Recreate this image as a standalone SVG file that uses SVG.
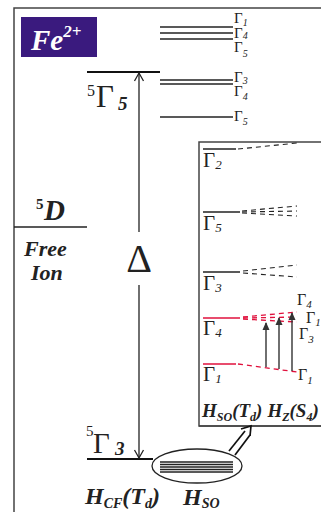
<svg xmlns="http://www.w3.org/2000/svg" width="321" height="512" viewBox="0 0 321 512">
<defs>
<style>
.ln{stroke:#222;stroke-width:1.3;fill:none}
.lv{stroke:#111;stroke-width:2;fill:none}
.fr{stroke:#444;stroke-width:1.5;fill:none}
.ds{stroke:#222;stroke-width:1.1;fill:none;stroke-dasharray:5 4}
.dr{stroke:#e0103c;stroke-width:1.3;fill:none;stroke-dasharray:5 4}
.rd{stroke:#e0103c;stroke-width:1.5;fill:none}
.t{font-family:"Liberation Serif","Times New Roman",serif;fill:#222}
.bi{font-weight:bold;font-style:italic}
.it{font-style:italic}
</style>
<marker id="ah" markerWidth="8" markerHeight="8" refX="7" refY="4" orient="auto" markerUnits="userSpaceOnUse">
<path d="M0,0.5 L8,4 L0,7.5 Z" fill="#333"/>
</marker>
</defs>

<g id="frame">
<path class="fr" d="M14,512 V8 H321"/>
<rect x="199" y="142" width="130" height="284" class="fr"/>
</g>

<g id="fe">
<rect x="21" y="17" width="76" height="40" fill="#3a1a7e"/>
<text x="31" y="50" class="t bi" font-size="29" style="fill:#fff">Fe<tspan font-size="17" dy="-13">2+</tspan></text>
</g>

<g id="free-ion">
<line class="ln" x1="14" y1="227" x2="87" y2="227"/>
<text x="36" y="209" class="t" font-size="15" font-weight="bold">5</text>
<text x="44" y="220" class="t bi" font-size="29">D</text>
<text x="24" y="256" class="t bi" font-size="22">Free</text>
<text x="31" y="280" class="t bi" font-size="22">Ion</text>
</g>

<g id="g5">
<line class="lv" x1="87" y1="72" x2="160" y2="72"/>
<text x="87" y="96" class="t" font-size="16">5</text>
<text x="96" y="107" class="t" font-size="31">Γ</text>
<text x="118" y="110" class="t bi" font-size="19">5</text>
</g>

<g id="g3">
<line class="lv" x1="87" y1="459" x2="153" y2="459"/>
<text x="86" y="436" class="t" font-size="15">5</text>
<text x="93" y="453" class="t" font-size="29">Γ</text>
<text x="115" y="455" class="t bi" font-size="19">3</text>
</g>

<g id="top-levels">
<line class="ln" x1="160" y1="27" x2="233" y2="27"/>
<line class="ln" x1="160" y1="33" x2="233" y2="33"/>
<line class="ln" x1="160" y1="39" x2="233" y2="39"/>
<line class="ln" x1="160" y1="80" x2="233" y2="80"/>
<line class="ln" x1="160" y1="84" x2="233" y2="84"/>
<line class="ln" x1="160" y1="117" x2="233" y2="117"/>
<text x="234" y="23" class="t" font-size="15">Γ<tspan class="it" font-size="10" dy="3">1</tspan></text>
<text x="234" y="38" class="t" font-size="15">Γ<tspan class="it" font-size="10" dy="1">4</tspan></text>
<text x="234" y="52" class="t" font-size="15">Γ<tspan class="it" font-size="10" dy="5">5</tspan></text>
<text x="234" y="82" class="t" font-size="15">Γ<tspan class="it" font-size="10" dy="2">3</tspan></text>
<text x="234" y="96" class="t" font-size="15">Γ<tspan class="it" font-size="10" dy="4">4</tspan></text>
<text x="234" y="121" class="t" font-size="15">Γ<tspan class="it" font-size="10" dy="4">5</tspan></text>
</g>

<g id="delta">
<text x="139" y="272" class="t" font-size="40" text-anchor="middle">Δ</text>
</g>

<g id="so-ellipse">
<ellipse cx="197" cy="466" rx="45" ry="17" class="ln"/>
<line class="ln" x1="160" y1="462" x2="233" y2="462"/>
<line class="ln" x1="160" y1="464.5" x2="233" y2="464.5"/>
<line class="ln" x1="160" y1="467" x2="233" y2="467"/>
<line class="ln" x1="160" y1="469.5" x2="233" y2="469.5"/>
<line class="ln" x1="160" y1="472" x2="233" y2="472"/>
</g>

<g id="bottom-labels">
<text x="85" y="504" class="t bi" font-size="24">H<tspan font-size="14" dy="4">CF</tspan><tspan dy="-4">(T</tspan><tspan font-size="14" dy="4">d</tspan><tspan dy="-4">)</tspan></text>
<text x="183" y="505" class="t bi" font-size="24">H<tspan font-size="14" dy="3">SO</tspan></text>
</g>

<g id="inset-levels">
<line class="ln" x1="203" y1="149" x2="236" y2="149"/>
<text x="203" y="167" class="t" font-size="21">Γ<tspan class="it" font-size="13" dy="2">2</tspan></text>
<line class="ln" x1="203" y1="212" x2="240" y2="212"/>
<text x="203" y="230" class="t" font-size="21">Γ<tspan class="it" font-size="13" dy="2">5</tspan></text>
<line class="ln" x1="203" y1="272" x2="240" y2="272"/>
<text x="203" y="290" class="t" font-size="21">Γ<tspan class="it" font-size="13" dy="2">3</tspan></text>
<line class="rd" x1="203" y1="318" x2="240" y2="318"/>
<text x="203" y="335" class="t" font-size="21">Γ<tspan class="it" font-size="13" dy="2">4</tspan></text>
<line class="rd" x1="203" y1="364" x2="236" y2="364"/>
<text x="203" y="381" class="t" font-size="21">Γ<tspan class="it" font-size="13" dy="2">1</tspan></text>
</g>

<g id="inset-right-labels">
<text x="297" y="305" class="t" font-size="16">Γ<tspan class="it" font-size="11" dy="3">4</tspan></text>
<text x="306" y="323" class="t" font-size="16">Γ<tspan class="it" font-size="11" dy="3">1</tspan></text>
<text x="299" y="339" class="t" font-size="16">Γ<tspan class="it" font-size="11" dy="4">3</tspan></text>
<text x="298" y="380" class="t" font-size="16">Γ<tspan class="it" font-size="11" dy="4">1</tspan></text>
</g>

<g id="inset-bottom">
<line class="fr" x1="199" y1="426" x2="321" y2="426"/>
<text x="202" y="417" class="t bi" font-size="19">H<tspan font-size="12" dy="4">SO</tspan><tspan dy="-4">(T</tspan><tspan font-size="12" dy="4">d</tspan><tspan dy="-4">)</tspan><tspan dx="5">H</tspan><tspan font-size="12" dy="4">Z</tspan><tspan dy="-4">(S</tspan><tspan font-size="12" dy="4">4</tspan><tspan dy="-4">)</tspan></text>
</g>

<g id="connectors">
<line class="ln" x1="139" y1="73" x2="139" y2="232"/>
<line class="ln" x1="139" y1="285" x2="139" y2="458"/>
<polyline class="ln" points="134.5,81 139,73 143.5,81"/>
<polyline class="ln" points="134.5,450 139,458 143.5,450"/>
<line x1="229" y1="451" x2="245" y2="431" stroke="#111" stroke-width="1.7"/>
<line x1="235" y1="455" x2="250" y2="435" stroke="#111" stroke-width="1.7"/>
<polyline points="241,429 251,426 250,436" stroke="#111" stroke-width="1.7" fill="none"/>
<line class="ds" x1="238" y1="149" x2="297" y2="143"/>
<line class="ds" x1="242" y1="211" x2="297" y2="206"/>
<line class="ds" x1="242" y1="212" x2="297" y2="211"/>
<line class="ds" x1="242" y1="213" x2="297" y2="216"/>
<line class="ds" x1="243" y1="271" x2="297" y2="265"/>
<line class="ds" x1="243" y1="273" x2="297" y2="277"/>
<line class="dr" x1="243" y1="317" x2="297" y2="312"/>
<line class="dr" x1="243" y1="318" x2="297" y2="317"/>
<line class="dr" x1="243" y1="319" x2="297" y2="322"/>
<line class="dr" x1="238" y1="364" x2="297" y2="372"/>
<line x1="266" y1="367" x2="266" y2="323" stroke="#333" stroke-width="1.4" marker-end="url(#ah)"/>
<line x1="279" y1="369" x2="279" y2="318" stroke="#333" stroke-width="1.4" marker-end="url(#ah)"/>
<line x1="292" y1="371" x2="292" y2="313" stroke="#333" stroke-width="1.4" marker-end="url(#ah)"/>
</g>
</svg>
